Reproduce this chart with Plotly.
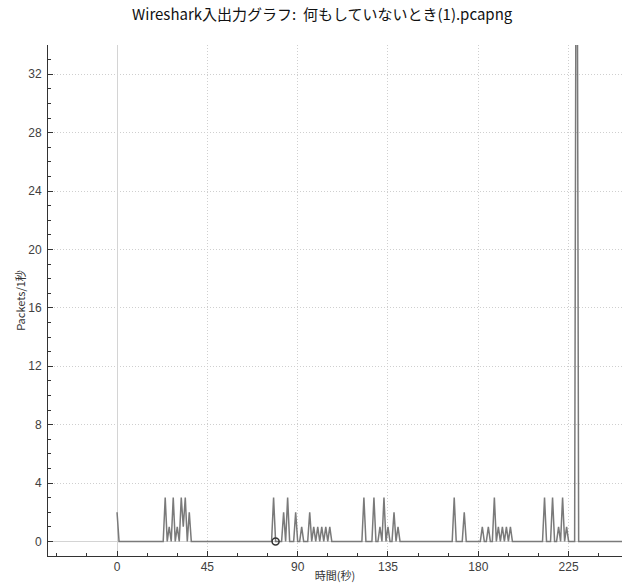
import plotly.graph_objects as go

# Per-second packet counts (only non-zero seconds listed; all other seconds are 0)
spike_seconds = [0, 24, 26, 28, 30, 32, 33, 34, 36,
                 78, 83, 85, 89, 92, 96, 98, 100, 102, 104, 106,
                 123, 128, 131, 133, 135, 138, 140,
                 168, 173, 182, 185, 188, 190, 192, 194, 196,
                 213, 217, 220, 222, 224, 229]
spike_packets = [2, 3, 1, 3, 1, 3, 1, 3, 2,
                 3, 2, 3, 2, 1, 2, 1, 1, 1, 1, 1,
                 3, 3, 1, 3, 1, 2, 1,
                 3, 2, 1, 1, 3, 1, 1, 1, 1,
                 3, 3, 1, 3, 1, 60]
last_second = 252
marker_second = [79]
marker_packets = [0]

x_ticks = [0, 45, 90, 135, 180, 225]
y_ticks = [0, 4, 8, 12, 16, 20, 24, 28, 32]

seconds = list(range(0, last_second + 1))
lookup = dict(zip(spike_seconds, spike_packets))
packets = [lookup.get(s, 0) for s in seconds]

fig = go.Figure()
fig.add_trace(go.Scatter(
    x=seconds, y=packets, mode="lines",
    line=dict(color="#7a7a7a", width=1.5),
    showlegend=False, hoverinfo="x+y"))
fig.add_trace(go.Scatter(
    x=marker_second, y=marker_packets, mode="markers",
    marker=dict(symbol="circle-open", size=7, color="#333333",
                line=dict(width=1.5, color="#333333")),
    showlegend=False))

tick_font = dict(family="Liberation Sans, Arial, sans-serif", size=12, color="#404040")
grid_dash = "1px,2px"

fig.update_layout(
    width=622, height=583,
    margin=dict(l=48, r=0, t=45, b=27, autoexpand=False),
    paper_bgcolor="white", plot_bgcolor="white",
    title=dict(text="Wireshark入出力グラフ:  何もしていないとき(1).pcapng",
               font=dict(family="Noto Sans CJK JP", size=15, color="#111111"),
               x=0.518, xanchor="center", xref="container",
               y=1 - 15 / 583, yanchor="middle", yref="container"),
    xaxis=dict(
        range=[-34.4, 251.6], tickvals=x_ticks, ticktext=[str(v) for v in x_ticks],
        automargin=False,
        ticks="inside", ticklen=5, tickcolor="#333333", tickfont=tick_font,
        showline=True, linecolor="#333333", linewidth=1,
        showgrid=True, gridcolor="#cfcfcf", griddash=grid_dash, gridwidth=1,
        zeroline=True, zerolinecolor="#d4d4d4", zerolinewidth=1,
        minor=dict(dtick=15, tick0=0, ticks="inside", ticklen=3, tickcolor="#333333", showgrid=False),
        title=dict(text="時間(秒)", font=dict(family="Noto Sans CJK JP", size=11, color="#333333"), standoff=0),
    ),
    yaxis=dict(
        range=[-1, 34], tickvals=y_ticks, ticktext=[str(v) for v in y_ticks],
        automargin=False,
        ticks="inside", ticklen=5, tickcolor="#333333", tickfont=tick_font,
        ticklabelstandoff=3,
        showline=True, linecolor="#333333", linewidth=1,
        showgrid=True, gridcolor="#cfcfcf", griddash=grid_dash, gridwidth=1,
        zeroline=True, zerolinecolor="#d4d4d4", zerolinewidth=1,
        minor=dict(dtick=1, tick0=0, ticks="inside", ticklen=3, tickcolor="#333333", showgrid=False),
        title=dict(text="Packets/1秒", font=dict(family="Noto Sans CJK JP", size=11, color="#333333"), standoff=0),
    ),
)

fig.write_html("out.html",
               config={"displayModeBar": False},
               post_script="document.body.style.margin='0';document.body.style.overflow='hidden';")
